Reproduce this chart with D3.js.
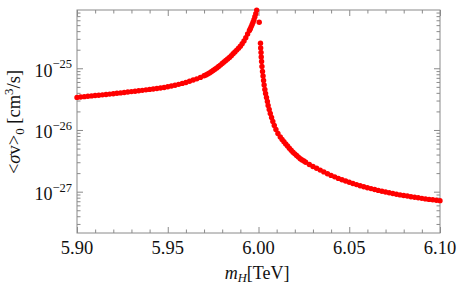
<!DOCTYPE html>
<html><head><meta charset="utf-8">
<script src="https://cdn.jsdelivr.net/npm/d3@7"></script>
<style>html,body{margin:0;padding:0;background:#fff;} svg{display:block;}</style>
</head><body>
<svg id="chart" width="458" height="285"></svg>
<script>
// values of <sigma v>_0 are stored in units of 1e-26 cm^3/s
const UNIT = 1e-26;

// branch below the resonance (m_H in TeV)
const leftMass = [5.900,5.902,5.904,5.906,5.908,5.910,5.912,5.914,5.916,5.918,5.920,5.922,5.924,5.926,5.928,5.930,
  5.932,5.934,5.936,5.938,5.940,5.942,5.944,5.946,5.948,5.950,5.952,5.954,5.956,5.958,5.960,5.962,5.964,5.966,5.968,5.970,
  5.971,5.972,5.973,5.974,5.975,5.976,5.977,5.978,5.979,5.980,5.981,5.982,5.983,5.984,5.985,5.986,5.987,5.988,5.989,5.990,
  5.991,5.992,5.993,5.994,5.995,5.9955,5.996,5.9965,5.997,5.9975,5.998,5.9985,5.999];
const leftSigma = [3.376,3.421,3.469,3.516,3.564,3.614,3.662,3.711,3.762,3.815,3.870,3.929,3.989,4.054,4.120,4.186,
  4.254,4.323,4.391,4.469,4.546,4.624,4.709,4.797,4.889,5.024,5.161,5.302,5.487,5.685,5.883,6.152,6.447,6.740,7.119,7.547,
  7.787,8.068,8.422,8.808,9.211,9.652,10.15,10.68,11.25,11.92,12.62,13.36,14.16,15.01,16.00,17.18,18.37,19.72,21.18,22.81,
  25.04,27.70,31.16,35.84,40.99,43.84,47.40,51.28,55.87,61.09,68.33,76.72,87.75];

// branch just above the resonance (sparse points)
const nearMass = [6.0004,6.0011,6.0012,6.0014,6.0015,6.0017,6.0019,6.0022,6.0025,6.0028,6.0031,6.0035,6.0039,6.0044,
  6.0049,6.0053,6.0059,6.0065,6.0072,6.0079,6.0087,6.0096,6.0107];
const nearSigma = [55.67,25.42,21.33,18.04,15.24,12.89,10.70,8.873,7.502,6.343,5.361,4.533,3.905,3.363,
  2.897,2.495,2.149,1.851,1.594,1.373,1.183,1.019,0.8777];

// tail above the resonance
const tailMass = [6.012,6.013,6.014,6.015,6.016,6.017,6.018,6.019,6.020,6.021,6.022,6.023,6.024,6.025,6.026,6.028,6.030,
  6.032,6.034,6.036,6.038,6.040,6.042,6.044,6.046,6.048,6.050,6.052,6.054,6.056,6.058,6.060,6.062,6.064,6.066,6.068,
  6.070,6.072,6.074,6.076,6.078,6.080,6.082,6.084,6.086,6.088,6.090,6.092,6.094,6.096,6.098,6.100];
const tailSigma = [0.7730,0.7041,0.6461,0.5953,0.5504,0.5051,0.4688,0.4367,0.4107,0.3862,0.3637,0.3426,0.3276,0.3145,0.3007,0.2760,0.2562,
  0.2395,0.2239,0.2094,0.1954,0.1837,0.1738,0.1643,0.1565,0.1491,0.1420,0.1358,0.1303,0.1251,0.1205,0.1161,0.1123,0.1086,0.1050,0.1019,
  0.0989,0.0960,0.0935,0.0911,0.0887,0.0868,0.0849,0.0830,0.0811,0.0796,0.0780,0.0764,0.0750,0.0739,0.0726,0.0715];

// axes
const xDomain = [5.90, 6.10];
const yDomain = [2.14e-28, 8.8e-25];
const xMajor = [5.90, 5.95, 6.00, 6.05, 6.10];
const xMinor = [5.91,5.92,5.93,5.94,5.96,5.97,5.98,5.99,6.01,6.02,6.03,6.04,6.06,6.07,6.08,6.09];
const yMajor = [1e-25, 1e-26, 1e-27];
const yMajorExp = ["\u221225", "\u221226", "\u221227"];

const FONT = "'Liberation Serif','Times New Roman',serif";
const FRAME = "#8a8a8a";

const svg = d3.select("#chart");
const L = 77, R = 440, T = 10, B = 233;
const x = d3.scaleLinear().domain(xDomain).range([L, R]);
const y = d3.scaleLog().domain(yDomain).range([B, T]);

const yMinor = y.ticks().filter(v => !yMajor.some(m => Math.abs(m - v) / m < 1e-6) &&
  Math.abs(Math.log10(v) - Math.round(Math.log10(v))) > 1e-6);

function styleAxis(g) {
  g.select(".domain").remove();
  g.selectAll(".tick line").attr("stroke", FRAME).attr("stroke-width", 1);
  g.selectAll(".tick text").remove();
}

// bottom / top
[[d3.axisBottom, B], [d3.axisTop, T]].forEach(([fn, pos]) => {
  svg.append("g").attr("transform", `translate(0,${pos})`)
    .call(fn(x).tickValues(xMajor).tickSizeInner(-6).tickSizeOuter(0)).call(styleAxis);
  svg.append("g").attr("transform", `translate(0,${pos})`)
    .call(fn(x).tickValues(xMinor).tickSizeInner(-3.5).tickSizeOuter(0)).call(styleAxis);
});
// left / right
[[d3.axisLeft, L], [d3.axisRight, R]].forEach(([fn, pos]) => {
  svg.append("g").attr("transform", `translate(${pos},0)`)
    .call(fn(y).tickValues(yMajor).tickSizeInner(-6).tickSizeOuter(0)).call(styleAxis);
  svg.append("g").attr("transform", `translate(${pos},0)`)
    .call(fn(y).tickValues(yMinor).tickSizeInner(-3.5).tickSizeOuter(0)).call(styleAxis);
});

// frame
svg.append("rect").attr("x", L).attr("y", T).attr("width", R - L).attr("height", B - T)
  .attr("fill", "none").attr("stroke", FRAME).attr("stroke-width", 1);

// x tick labels
svg.append("g").selectAll("text").data(xMajor).join("text")
  .attr("x", d => x(d)).attr("y", 254)
  .attr("text-anchor", "middle").attr("font-family", FONT).attr("font-size", 18.5).attr("fill", "#111")
  .text(d => d3.format(".2f")(d));

// y tick labels
const yl = svg.append("g").selectAll("text").data(yMajor).join("text")
  .attr("x", 72).attr("y", d => y(d) + 8.5)
  .attr("text-anchor", "end").attr("font-family", FONT).attr("font-size", 18).attr("fill", "#111");
yl.append("tspan").text("10");
yl.append("tspan").attr("dy", -8.5).attr("font-size", 12.5).text((d, i) => yMajorExp[i]);

// x title
const xt = svg.append("text").attr("x", 257).attr("y", 279).attr("text-anchor", "middle")
  .attr("font-family", FONT).attr("font-size", 18).attr("fill", "#111");
xt.append("tspan").attr("font-style", "italic").text("m");
xt.append("tspan").attr("font-style", "italic").attr("font-size", 12.5).attr("dy", 3).text("H");
xt.append("tspan").attr("dy", -3).text("[TeV]");

// y title
const yt = svg.append("text").attr("transform", "translate(20,122) rotate(-90)").attr("text-anchor", "middle")
  .attr("font-family", FONT).attr("font-size", 18.5).attr("fill", "#111");
yt.append("tspan").text("<");
yt.append("tspan").attr("font-style", "italic").text("\u03c3");
yt.append("tspan").text("v>");
yt.append("tspan").attr("font-size", 13).attr("dy", 4).text("0");
yt.append("tspan").attr("dy", -4).text(" [cm");
yt.append("tspan").attr("font-size", 13).attr("dy", -7).text("3");
yt.append("tspan").attr("dy", 7).text("/s]");

// points
const points = [];
[[leftMass, leftSigma], [nearMass, nearSigma], [tailMass, tailSigma]].forEach(([ms, ss]) => {
  ms.forEach((m, i) => points.push({ m, s: ss[i] * UNIT }));
});
svg.append("g").selectAll("circle").data(points).join("circle")
  .attr("cx", d => x(d.m)).attr("cy", d => y(d.s)).attr("r", 2.7).attr("fill", "#ff0000");
</script>
</body></html>
